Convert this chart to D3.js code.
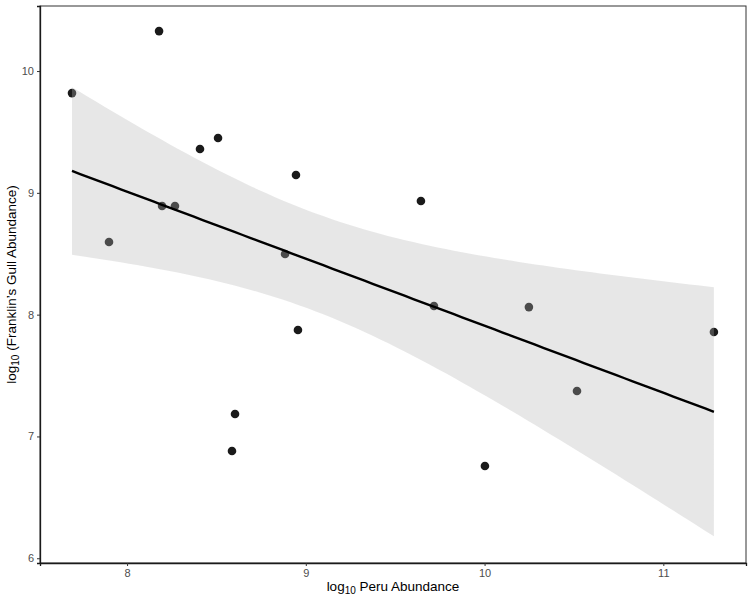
<!DOCTYPE html>
<html>
<head>
<meta charset="utf-8">
<script src="https://cdn.jsdelivr.net/npm/d3@7"></script>
<style>
  html, body { margin: 0; padding: 0; background: #fff; }
  svg { display: block; font-family: "Liberation Sans", Arial, sans-serif; }
</style>
</head>
<body>
<div id="chart"></div>
<script>
// log10 Peru abundance vs log10 Franklin's Gull abundance
const peru = [7.692, 8.179, 7.899, 8.196, 8.268, 8.408, 8.509, 8.604, 8.587,
              8.884, 8.945, 8.956, 9.644, 9.717, 10.002, 10.248, 10.517, 11.283];
const gull = [9.819, 10.328, 8.596, 8.892, 8.892, 9.360, 9.450, 7.184, 6.880,
              8.498, 9.146, 7.874, 8.933, 8.071, 6.757, 8.062, 7.373, 7.857];
const xTicks = [8, 9, 10, 11];
const yTicks = [6, 7, 8, 9, 10];

const W = 752, H = 598;
const margin = { top: 6, right: 6, bottom: 35, left: 40 };

const svg = d3.select('#chart').append('svg').attr('width', W).attr('height', H);

const x = d3.scaleLinear().domain([7.513, 11.4625]).range([margin.left, W - margin.right]);
const y = d3.scaleLinear().domain([5.961, 10.534]).range([H - margin.bottom, margin.top]);

// linear fit with confidence band, like geom_smooth(method = "lm")
const n = peru.length;
const mx = d3.mean(peru), my = d3.mean(gull);
const sxx = d3.sum(peru, v => (v - mx) ** 2);
const sxy = d3.sum(peru, (v, i) => (v - mx) * (gull[i] - my));
const slope = sxy / sxx, icpt = my - slope * mx;
const rss = d3.sum(peru, (v, i) => (gull[i] - (icpt + slope * v)) ** 2);
const s = Math.sqrt(rss / (n - 2));
const tq = 1.94; // band half-width multiplier, matched to the original's band
const [x0, x1] = d3.extent(peru);
const grid = d3.range(80).map(i => x0 + (x1 - x0) * i / 79);
const band = grid.map(v => {
  const fit = icpt + slope * v;
  const se = s * Math.sqrt(1 / n + (v - mx) ** 2 / sxx);
  return { x: v, fit, lo: fit - tq * se, hi: fit + tq * se };
});

// points (ribbon is drawn on top of them, as in the original)
svg.append('g').selectAll('circle')
  .data(peru.map((v, i) => ({ x: v, y: gull[i] })))
  .join('circle')
  .attr('cx', d => x(d.x))
  .attr('cy', d => y(d.y))
  .attr('r', 4.3)
  .attr('fill', '#1a1a1a');

svg.append('path')
  .datum(band)
  .attr('d', d3.area().x(d => x(d.x)).y0(d => y(d.lo)).y1(d => y(d.hi)))
  .attr('fill', '#b4b4b4')
  .attr('fill-opacity', 0.32);

svg.append('path')
  .datum(band)
  .attr('d', d3.line().x(d => x(d.x)).y(d => y(d.fit)))
  .attr('fill', 'none')
  .attr('stroke', '#000')
  .attr('stroke-width', 2.4);

// panel border
svg.append('rect')
  .attr('x', margin.left).attr('y', margin.top)
  .attr('width', W - margin.left - margin.right)
  .attr('height', H - margin.top - margin.bottom)
  .attr('fill', 'none').attr('stroke', '#333').attr('stroke-width', 1);

// axes
const xAxis = svg.append('g')
  .attr('transform', `translate(0,${H - margin.bottom})`)
  .call(d3.axisBottom(x).tickValues(xTicks).tickSize(3).tickPadding(3).tickFormat(d3.format('d')));
const yAxis = svg.append('g')
  .attr('transform', `translate(${margin.left},0)`)
  .call(d3.axisLeft(y).tickValues(yTicks).tickSize(3).tickPadding(3).tickFormat(d3.format('d')));

[xAxis, yAxis].forEach(a => {
  a.select('.domain').attr('stroke', '#1a1a1a').attr('stroke-width', 1.3);
  a.selectAll('.tick line').attr('stroke', '#333');
  a.selectAll('.tick text').attr('fill', '#4d4d4d').style('font-size', '11px')
    .style('font-family', '"Liberation Sans", Arial, sans-serif');
});

// axis titles
const xt = svg.append('text')
  .attr('x', (margin.left + W - margin.right) / 2)
  .attr('y', H - 7)
  .attr('text-anchor', 'middle')
  .attr('font-size', 13.5)
  .attr('fill', '#000');
xt.append('tspan').text('log');
xt.append('tspan').attr('font-size', 10).attr('dy', 3).text('10');
xt.append('tspan').attr('dy', -3).text(' Peru Abundance');

const yt = svg.append('text')
  .attr('transform', `translate(16,${(margin.top + H - margin.bottom) / 2}) rotate(-90)`)
  .attr('text-anchor', 'middle')
  .attr('font-size', 13.5)
  .attr('fill', '#000');
yt.append('tspan').text('log');
yt.append('tspan').attr('font-size', 10).attr('dy', 3).text('10');
yt.append('tspan').attr('dy', -3).text(' (Franklin\u2019s Gull Abundance)');
</script>
</body>
</html>
